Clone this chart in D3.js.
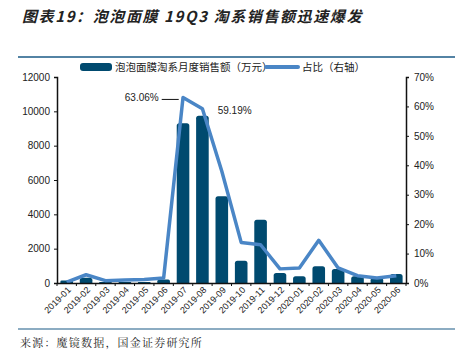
<!DOCTYPE html>
<html><head><meta charset="utf-8">
<script src="https://cdn.jsdelivr.net/npm/d3@7"></script>
<style>body{margin:0;background:#fff}svg{display:block}</style>
</head><body>
<svg id="c" width="458" height="355"></svg>
<script>
const categories = ["2019-01","2019-02","2019-03","2019-04","2019-05","2019-06","2019-07","2019-08","2019-09","2019-10","2019-11","2019-12","2020-01","2020-02","2020-03","2020-04","2020-05","2020-06"];
const sales = [150,300,60,60,60,200,9300,9750,5050,1300,3690,580,390,970,815,390,300,520];
const share = [0.3,2.8,0.8,1.0,1.2,1.7,63.06,59.19,38,13.8,13,4.8,5.1,14.5,5.1,2.5,1.7,2.5];
const leftTicks = [0,2000,4000,6000,8000,10000,12000];
const rightTicks = [0,10,20,30,40,50,60,70];
const title = "图表19：泡泡面膜 19Q3 淘系销售额迅速爆发";
const source = "来源：魔镜数据，国金证券研究所";
const legendLabels = ["泡泡面膜淘系月度销售额（万元）","占比（右轴）"];

const svg = d3.select("#c");
const font = "'Liberation Sans', Arial, sans-serif";
const cjk = "'Noto Sans CJK SC', sans-serif";
const barColor = "#004a6f", lineColor = "#4a86c6";
const L = 57, R = 406, T = 77, B = 283;

svg.append("text").attr("x",22).attr("y",22).attr("font-family",cjk).attr("font-size",15)
  .attr("font-weight","bold").attr("font-style","italic").attr("letter-spacing",1.6).attr("fill","#222").text(title);
svg.append("line").attr("x1",18).attr("x2",455).attr("y1",57).attr("y2",57).attr("stroke","#1a5a86").attr("stroke-width",1.5);
svg.append("line").attr("x1",18).attr("x2",455).attr("y1",329).attr("y2",329).attr("stroke","#1a5a86").attr("stroke-width",1.2);
svg.append("text").attr("x",20).attr("y",347).attr("font-family","'Noto Serif CJK SC','Noto Sans CJK SC',serif").attr("font-size",11).attr("letter-spacing",1.2).attr("fill","#222").text(source);

const x = d3.scaleBand().domain(categories).range([L,R]).paddingInner(0.35).paddingOuter(0.175);
const y = d3.scaleLinear().domain([0,12000]).range([B,T]);
const y2 = d3.scaleLinear().domain([0,70]).range([B,T]);

svg.append("g").selectAll("path").data(sales).join("path")
  .attr("fill",barColor)
  .attr("d",(d,i)=>{
    const x0 = x(categories[i]), w = x.bandwidth(), yt = y(d), r = Math.min(2.5, (B-yt)/2);
    return `M${x0},${B}V${yt+r}Q${x0},${yt} ${x0+r},${yt}H${x0+w-r}Q${x0+w},${yt} ${x0+w},${yt+r}V${B}Z`;
  });

const line = d3.line().x((d,i)=>x(categories[i])+x.bandwidth()/2).y(d=>y2(d));
svg.append("path").datum(share).attr("d",line).attr("fill","none").attr("stroke",lineColor).attr("stroke-width",3.5).attr("stroke-linejoin","round");

// axes
const gl = svg.append("g").attr("transform",`translate(${L},0)`).call(d3.axisLeft(y).tickValues(leftTicks).tickSize(3).tickPadding(4).tickFormat(d3.format("d")));
const gr = svg.append("g").attr("transform",`translate(${R},0)`).call(d3.axisRight(y2).tickValues(rightTicks).tickSize(3).tickPadding(5).tickFormat(d=>d+"%"));
const gx = svg.append("g").attr("transform",`translate(0,${B})`).call(d3.axisBottom(x).tickSize(0).tickPadding(6));
[gl,gr,gx].forEach(g=>{
  g.select(".domain").attr("stroke","#111").attr("stroke-width",1.5);
  g.selectAll(".tick line").attr("stroke","#111");
  g.selectAll("text").attr("font-family",font).attr("font-size",10).attr("fill","#222");
});
gx.selectAll("text").attr("font-size",9).attr("text-anchor","end").attr("transform","rotate(-45)").attr("dx","-2").attr("dy","0.3em");
// boundary ticks on x axis
svg.append("g").selectAll("line").data(d3.range(categories.length+1)).join("line")
  .attr("x1",i=>L+i*(R-L)/categories.length).attr("x2",i=>L+i*(R-L)/categories.length)
  .attr("y1",B).attr("y2",B+3).attr("stroke","#111");

// annotations
const i7 = 6, i8 = 7;
svg.append("text").attr("x",x(categories[i7])-18).attr("y",y2(share[i7])+4).attr("text-anchor","end")
  .attr("font-family",font).attr("font-size",10).attr("fill","#222").text(share[i7].toFixed(2)+"%");
svg.append("line").attr("x1",x(categories[i7])-15).attr("x2",x(categories[i7])+2).attr("y1",y2(share[i7])+2).attr("y2",y2(share[i7])+2).attr("stroke","#111").attr("stroke-width",1);
svg.append("text").attr("x",x(categories[i8])+x.bandwidth()+9).attr("y",y2(share[i8])+5)
  .attr("font-family",font).attr("font-size",10).attr("fill","#222").text(share[i8].toFixed(2)+"%");

// legend
svg.append("rect").attr("x",80).attr("y",63).attr("width",32).attr("height",8).attr("rx",3).attr("fill",barColor);
svg.append("text").attr("x",115).attr("y",71).attr("font-family",cjk).attr("font-size",10.5).attr("fill","#222").text(legendLabels[0]);
svg.append("line").attr("x1",266).attr("x2",298).attr("y1",67).attr("y2",67).attr("stroke",lineColor).attr("stroke-width",4).attr("stroke-linecap","round");
svg.append("text").attr("x",302).attr("y",71).attr("font-family",cjk).attr("font-size",10.5).attr("fill","#222").text(legendLabels[1]);
</script>
</body></html>
